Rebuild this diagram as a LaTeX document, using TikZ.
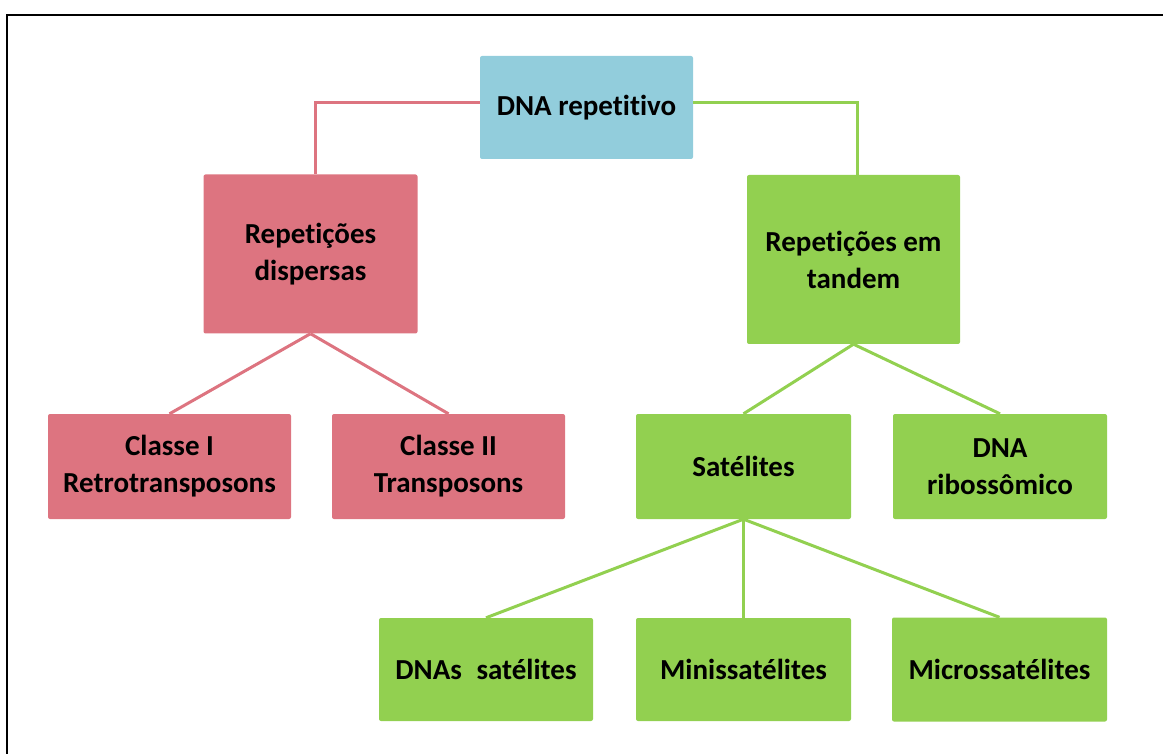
\documentclass[tikz,border=0pt]{standalone}
\usepackage{fontspec}
\setmainfont[Ligatures=NoCommon]{Carlito}
\newcommand\tiX{t\kern0pt i}
\definecolor{cblue}{HTML}{92CDDC}
\definecolor{cred}{HTML}{DD7480}
\definecolor{cgreen}{HTML}{92D050}
\begin{document}
\begin{tikzpicture}[x=1pt,y=-1pt,
  box/.style={rectangle, rounded corners=2pt, draw=none, align=center, inner sep=0pt,
    font=\bfseries\fontsize{29}{37}\selectfont, text=black},
  redbox/.style={box, fill=cred},
  greenbox/.style={box, fill=cgreen},
  bluebox/.style={box, fill=cblue},
  redline/.style={draw=cred, line width=3pt},
  greenline/.style={draw=cgreen, line width=3pt}]
\useasboundingbox (0,0) rectangle (1163,754);
\draw[line width=2pt, black] (7,760) -- (7,15.5) -- (1170,15.5);

\node[bluebox, minimum width=213pt, minimum height=103pt] (rep) at (586.5,107.5) {DNA repe\tiX{}\tiX{}vo};
\node[redbox, minimum width=214pt, minimum height=159pt] (disp) at (310.5,254) {Repe\tiX{}ções\\dispersas};
\node[greenbox, minimum width=213pt, minimum height=169pt] (tand) at (853.5,259.5) {Repe\tiX{}ções em\\tandem};
\node[redbox, minimum width=243pt, minimum height=105pt] (c1) at (169.5,466.5) {Classe I\\Retrotransposons};
\node[redbox, minimum width=233pt, minimum height=105pt] (c2) at (448.5,466.5) {Classe II\\Transposons};
\node[greenbox, minimum width=215pt, minimum height=105pt] (sat) at (743.5,466.5) {Satélites};
\node[greenbox, minimum width=214pt, minimum height=105pt] (rib) at (1000,466.5) {DNA\\ribossômico};
\node[greenbox, minimum width=214pt, minimum height=103pt] (dnas) at (486,669.5) {DNAs\hspace{0.5em}satélites};
\node[greenbox, minimum width=215pt, minimum height=103pt] (mini) at (743.5,669.5) {Minissatélites};
\node[greenbox, minimum width=215pt, minimum height=104pt] (micro) at (999.5,669.5) {Microssatélites};

\draw[redline] ([yshift=5pt]rep.west) -| ([xshift=5pt]disp.north);
\draw[greenline] ([yshift=5pt]rep.east) -| ([xshift=3.5pt]tand.north);
\draw[redline] (disp.south) -- (c1.north);
\draw[redline] (disp.south) -- (c2.north);
\draw[greenline] (tand.south) -- (sat.north);
\draw[greenline] (tand.south) -- (rib.north);
\draw[greenline] (sat.south) -- (dnas.north);
\draw[greenline] (sat.south) -- (mini.north);
\draw[greenline] (sat.south) -- (micro.north);
\end{tikzpicture}
\end{document}
